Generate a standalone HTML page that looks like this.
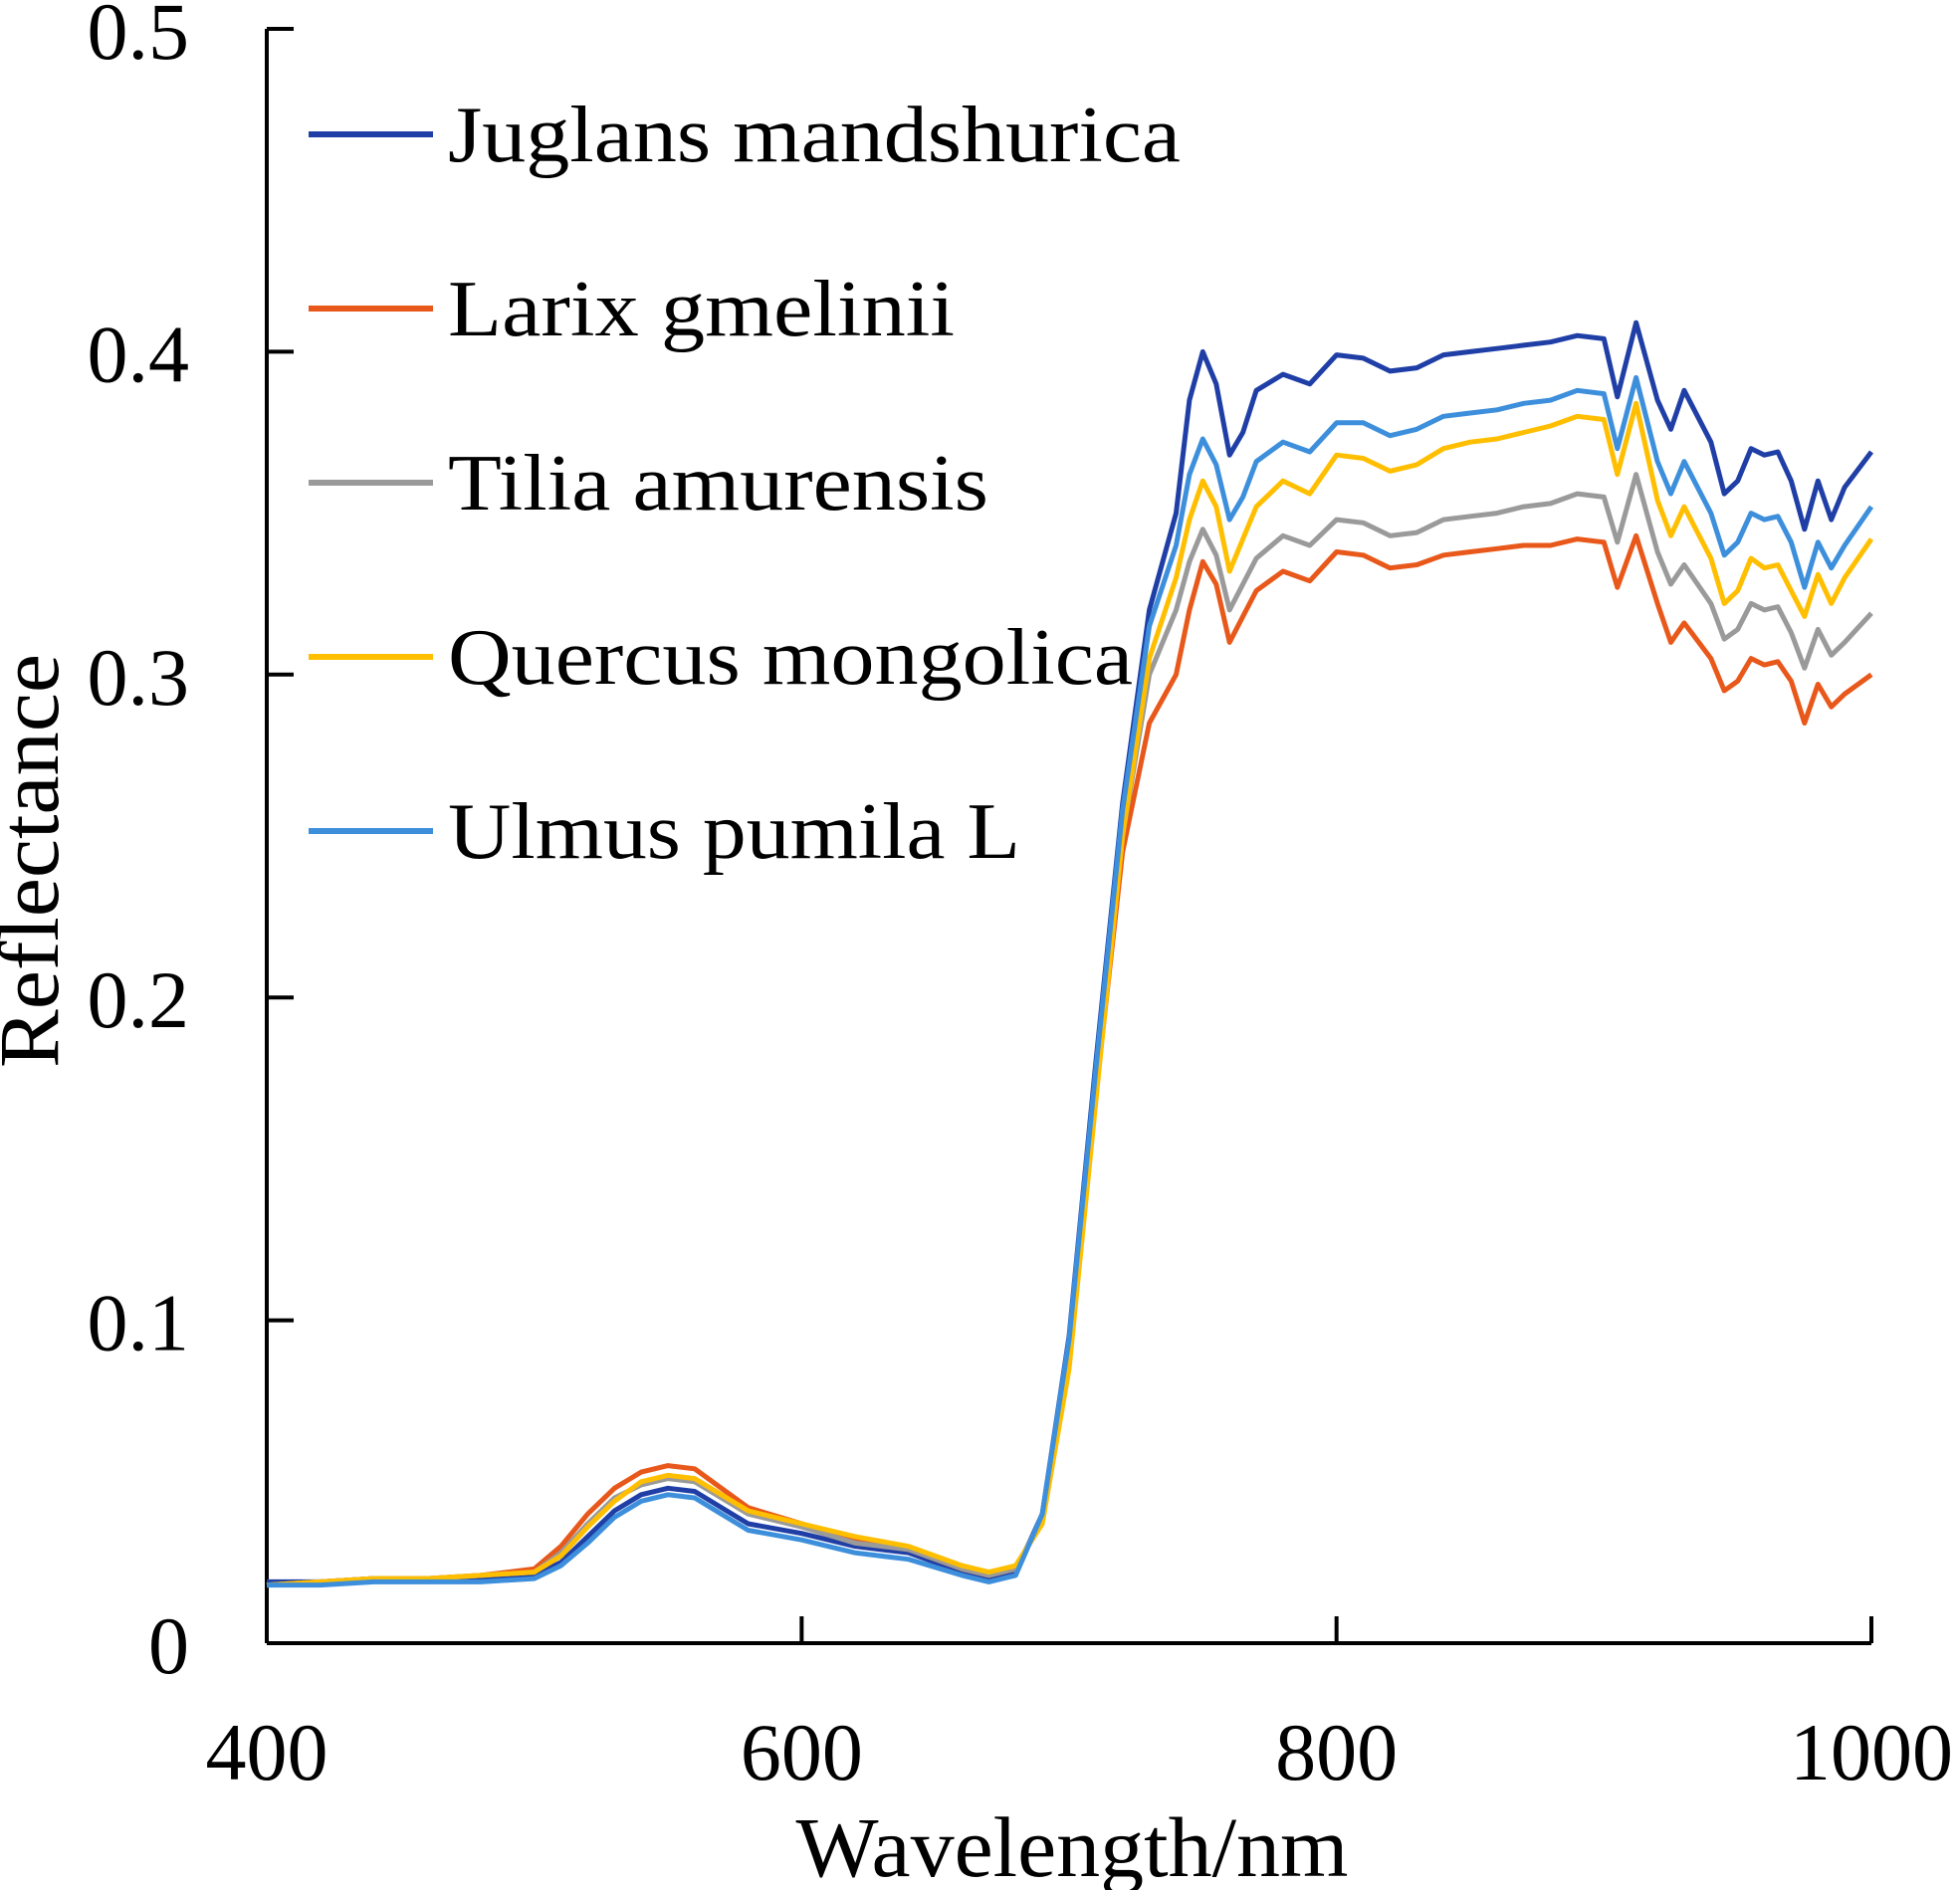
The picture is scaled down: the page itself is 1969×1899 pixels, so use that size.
<!DOCTYPE html>
<html><head><meta charset="utf-8"><style>
html,body{margin:0;padding:0;background:#fff;}
svg{display:block;font-family:"Liberation Serif",serif;}
</style></head><body>
<svg id="chart" width="1969" height="1899" viewBox="0 0 1969 1899" xmlns="http://www.w3.org/2000/svg">
<g id="axes"></g>
<g id="series"></g>
<g id="legend"></g>
<text x="1077" y="1885" font-size="86" text-anchor="middle" textLength="555" lengthAdjust="spacingAndGlyphs">Wavelength/nm</text>
<text transform="translate(58,865) rotate(-90)" font-size="86" text-anchor="middle" textLength="416" lengthAdjust="spacingAndGlyphs">Reflectance</text>
</svg>
<script>
const wavelengths=[400,420,440,460,480,500,510,520,530,540,550,560,570,580,600,620,640,660,670,680,690,700,710,720,730,740,745,750,755,760,765,770,780,790,800,810,820,830,840,850,860,870,880,890,900,905,912,920,925,930,940,945,950,955,960,965,970,975,980,985,990,1000];
const juglans=[.019,.019,.02,.02,.02,.021,.025,.033,.041,.046,.048,.047,.042,.037,.034,.030,.028,.022,.020,.022,.040,.095,.180,.260,.320,.350,.385,.400,.390,.368,.375,.388,.393,.390,.399,.398,.394,.395,.399,.400,.401,.402,.403,.405,.404,.386,.409,.385,.376,.388,.372,.356,.360,.370,.368,.369,.360,.345,.360,.348,.358,.369];
const larix=[.018,.019,.02,.02,.021,.023,.030,.040,.048,.053,.055,.054,.048,.042,.037,.032,.029,.023,.021,.023,.038,.088,.170,.245,.285,.300,.320,.335,.328,.310,.318,.326,.332,.329,.338,.337,.333,.334,.337,.338,.339,.340,.340,.342,.341,.327,.343,.322,.310,.316,.305,.295,.298,.305,.303,.304,.298,.285,.297,.290,.294,.300];
const tilia=[.018,.019,.02,.02,.021,.022,.028,.037,.045,.049,.051,.050,.045,.040,.036,.031,.029,.023,.021,.023,.039,.090,.175,.250,.300,.320,.335,.345,.337,.320,.328,.336,.343,.340,.348,.347,.343,.344,.348,.349,.350,.352,.353,.356,.355,.341,.362,.338,.328,.334,.322,.311,.314,.322,.320,.321,.313,.302,.314,.306,.310,.319];
const quercus=[.018,.019,.02,.02,.021,.022,.027,.036,.044,.050,.052,.051,.046,.041,.037,.033,.030,.024,.022,.024,.037,.085,.168,.250,.305,.330,.348,.360,.352,.332,.342,.352,.360,.356,.368,.367,.363,.365,.370,.372,.373,.375,.377,.380,.379,.362,.384,.354,.343,.352,.336,.322,.326,.336,.333,.334,.326,.318,.331,.322,.330,.342];
const ulmus=[.018,.018,.019,.019,.019,.020,.024,.031,.039,.044,.046,.045,.040,.035,.032,.028,.026,.021,.019,.021,.040,.094,.178,.258,.315,.340,.362,.373,.365,.348,.355,.366,.372,.369,.378,.378,.374,.376,.380,.381,.382,.384,.385,.388,.387,.370,.392,.366,.356,.366,.350,.337,.341,.350,.348,.349,.341,.327,.341,.333,.340,.352];
const seriesNames=["Juglans mandshurica","Larix gmelinii","Tilia amurensis","Quercus mongolica","Ulmus pumila L"];
const yTicks=[0,0.1,0.2,0.3,0.4,0.5];
const yTickLabels=["0","0.1","0.2","0.3","0.4","0.5"];
const xTicks=[400,600,800,1000];
const xTickLabels=["400","600","800","1000"];

const NS="http://www.w3.org/2000/svg";
const colors=["#1f3fa6","#e8581a","#9a9a9a","#ffbf00","#3d8fdc"];
const legendWidths=[736,509,543,688,575];
const X0=268,X1=1880,Y0=1651,Y1=29;
function sx(w){return X0+(w-400)/600*(X1-X0);}
function sy(v){return Y0-v/0.5*(Y0-Y1);}
function mk(tag,attrs,parent){const e=document.createElementNS(NS,tag);for(const k in attrs)e.setAttribute(k,attrs[k]);parent.appendChild(e);return e;}
const axes=document.getElementById('axes');
let l=mk('line',{x1:X0,y1:Y1,x2:X0,y2:Y0,stroke:'#000','stroke-width':4},axes);


l=mk('line',{x1:X0,y1:Y0,x2:X1,y2:Y0,stroke:'#000','stroke-width':4},axes);


yTicks.forEach((v,i)=>{
  const t=mk('line',{x1:X0,y1:sy(v),x2:X0+27,y2:sy(v),stroke:'#000','stroke-width':4},axes);
  
  
  const tx=mk('text',{x:190,y:sy(v)+30,'font-size':82,'text-anchor':'end'},axes);
  tx.textContent=yTickLabels[i];
  
  
});
xTicks.forEach((v,i)=>{
  const t=mk('line',{x1:sx(v),y1:Y0,x2:sx(v),y2:Y0-27,stroke:'#000','stroke-width':4},axes);
  
  
  const tx=mk('text',{x:sx(v),y:1788,'font-size':82,'text-anchor':'middle'},axes);
  tx.textContent=xTickLabels[i];
  
  
});
const data=[juglans,larix,tilia,quercus,ulmus];
const sg=document.getElementById('series');
data.forEach((arr,si)=>{
  const d=arr.map((v,i)=>(i?'L':'M')+sx(wavelengths[i]).toFixed(1)+','+sy(v).toFixed(1)).join(' ');
  const p=mk('path',{d:d,fill:'none',stroke:colors[si],'stroke-width':5,'stroke-linejoin':'round'},sg);
  
  
});
const lg=document.getElementById('legend');
seriesNames.forEach((n,i)=>{
  const y=135+i*175;
  const ln=mk('line',{x1:310,y1:y,x2:435,y2:y,stroke:colors[i],'stroke-width':6},lg);
  
  
  const tx=mk('text',{x:450,y:y+27,'font-size':80,textLength:legendWidths[i],lengthAdjust:'spacingAndGlyphs'},lg);
  tx.textContent=n;
  
  
});
</script>
</body></html>
